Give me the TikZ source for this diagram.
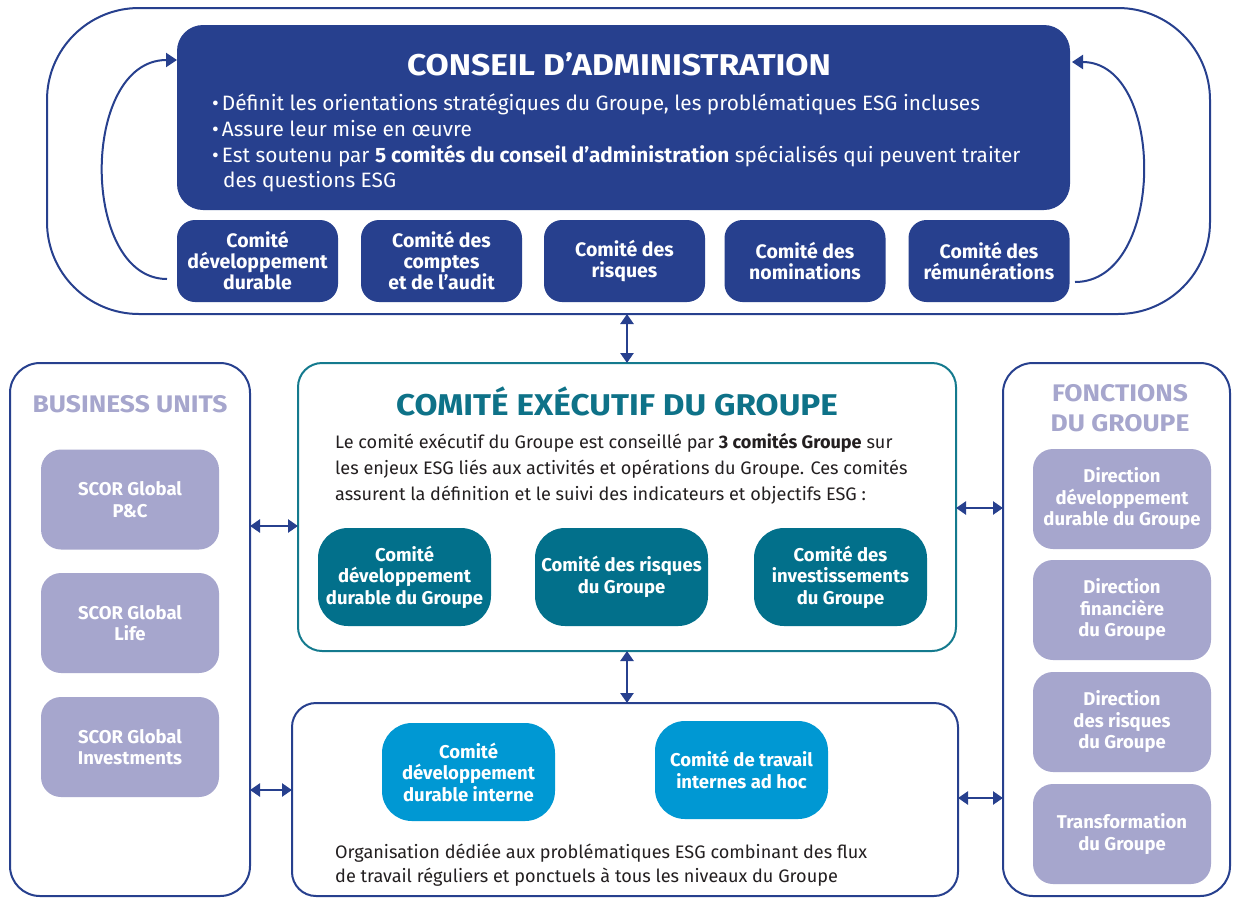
\documentclass[tikz,border=0pt]{standalone}
\usepackage{graphicx}
\usepackage{fontspec}
\setmainfont{Fira Sans}
\usetikzlibrary{arrows.meta}
\definecolor{dblue}{RGB}{39,64,142}
\definecolor{lav}{RGB}{166,166,205}
\definecolor{myteal}{RGB}{2,112,139}
\definecolor{tealline}{RGB}{20,122,142}
\definecolor{tealtitle}{RGB}{14,114,136}
\definecolor{lblue}{RGB}{0,152,211}
\definecolor{bodytext}{RGB}{35,31,32}
\tikzset{
  frame/.style={draw=dblue, line width=2pt, fill=white, inner sep=0pt, outer sep=0pt},
  boxtext/.style={inner sep=0pt, align=center, text=white, font=\fontsize{18.5}{21.5}\selectfont\bfseries},
  boardcom/.style={boxtext, fill=dblue, rounded corners=18pt, minimum width=161pt, minimum height=82pt, font=\fontsize{19.5}{21}\selectfont\bfseries},
  lavbox/.style={boxtext, fill=lav, rounded corners=20pt, minimum width=178pt, minimum height=100pt},
  tealbox/.style={boxtext, fill=myteal, rounded corners=30pt, minimum width=173pt, minimum height=98pt},
  bluebox/.style={boxtext, fill=lblue, rounded corners=30pt, minimum width=173pt, minimum height=98pt},
  bigtitle/.style={inner sep=0pt, font=\fontsize{30}{34}\selectfont\bfseries},
  sidetitle/.style={inner sep=0pt, text=lav, align=center, font=\fontsize{24}{30.5}\selectfont\bfseries},
  bullet/.style={anchor=base west, inner sep=0pt, text=white, font=\fontsize{20.8}{26}\selectfont},
  body/.style={anchor=base west, inner sep=0pt, text=bodytext, font=\fontsize{18.1}{26}\selectfont},
  darr/.style={draw=dblue, line width=2.5pt, {Triangle[length=10pt,width=13pt]}-{Triangle[length=10pt,width=13pt]}},
  carr/.style={draw=dblue, line width=2pt, -{Triangle[length=11pt,width=14pt]}},
}
\begin{document}
\begin{tikzpicture}[x=1pt,y=-1pt]
\useasboundingbox (0,0) rectangle (1237,898);

% ---------- board frame ----------
\node[frame, rounded corners=92pt, minimum width=1163pt, minimum height=306pt] (board) at (628.5,161) {};
\node[fill=dblue, rounded corners=26pt, minimum width=893pt, minimum height=185pt, inner sep=0pt] (ca) at (623.5,117.5) {};
\node[bigtitle, text=white] (catitle) at (619,64) {\scalebox{1.12}[1]{CONSEIL D’ADMINISTRATION}};
\node[bullet] (cab1) at (212,110) {•\hspace{3pt}Définit les orientations stratégiques du Groupe, les problématiques ESG incluses};
\node[bullet] (cab2) at (212,136) {•\hspace{3pt}Assure leur mise en œuvre};
\node[bullet] (cab3) at (212,162) {•\hspace{3pt}Est soutenu par \textbf{5 comités du conseil d’administration} spécialisés qui peuvent traiter};
\node[bullet] (cab4) at (223,187) {des questions ESG};

\node[boardcom] (c1) at (257.5,261) {Comité\\développement\\durable};
\node[boardcom] (c2) at (441.5,261) {Comité des\\comptes\\et de l’audit};
\node[boardcom] (c3) at (624.5,261) {Comité des\\risques};
\node[boardcom] (c4) at (805,261) {Comité des\\nominations};
\node[boardcom] (c5) at (989,261) {Comité des\\rémunérations};

\coordinate (lstart) at (167,279);
\coordinate (ltip) at (177,60);
\coordinate (rstart) at (1075,282);
\coordinate (rtip) at (1072,62);
\draw[carr] (lstart) .. controls (80,279) and (80,60) .. (ltip);
\draw[carr] (rstart) .. controls (1166,282) and (1166,62) .. (rtip);

% ---------- business units ----------
\node[frame, rounded corners=30pt, minimum width=240pt, minimum height=533pt] (bu) at (130,629.5) {};
\node[sidetitle] (butitle) at (130,404) {\scalebox{1.1}[1]{BUSINESS UNITS}};
\node[lavbox] (bu1) at (130,499.5) {SCOR Global\\P\&C};
\node[lavbox] (bu2) at (130,623) {SCOR Global\\Life};
\node[lavbox] (bu3) at (130,747) {SCOR Global\\Investments};

% ---------- fonctions du groupe ----------
\node[frame, rounded corners=30pt, minimum width=227pt, minimum height=533pt] (fg) at (1116.5,629.5) {};
\node[sidetitle] (fgtitle) at (1120,408) {\scalebox{1.1}[1]{FONCTIONS}\\\scalebox{1.1}[1]{DU GROUPE}};
\node[lavbox] (fg1) at (1122,499) {Direction\\développement\\durable du Groupe};
\node[lavbox] (fg2) at (1122,610) {Direction\\financière\\du Groupe};
\node[lavbox] (fg3) at (1122,722) {Direction\\des risques\\du Groupe};
\node[lavbox] (fg4) at (1122,834) {Transformation\\du Groupe};

% ---------- comité exécutif ----------
\node[frame, draw=tealline, rounded corners=24pt, minimum width=658pt, minimum height=288pt] (exec) at (627,507) {};
\node[bigtitle, text=tealtitle] (extitle) at (617,401) {\scalebox{1.11}[1]{COMITÉ EXÉCUTIF DU GROUPE}};
\node[body] (exb1) at (335,448) {Le comité exécutif du Groupe est conseillé par \textbf{3 comités Groupe} sur};
\node[body] (exb2) at (335,474) {les enjeux ESG liés aux activités et opérations du Groupe. Ces comités};
\node[body] (exb3) at (335,500) {assurent la définition et le suivi des indicateurs et objectifs ESG :};
\node[tealbox] (t1) at (404.5,577) {Comité\\développement\\durable du Groupe};
\node[tealbox] (t2) at (621.5,577) {Comité des risques\\du Groupe};
\node[tealbox] (t3) at (840.5,577) {Comité des\\investissements\\du Groupe};

% ---------- organisation ----------
\node[frame, rounded corners=24pt, minimum width=666pt, minimum height=193pt] (org) at (625,799.5) {};
\node[bluebox] (o1) at (468.5,772) {Comité\\développement\\durable interne};
\node[bluebox] (o2) at (741.5,770) {Comité de travail\\internes ad hoc};
\node[body] (ob1) at (335,858) {Organisation dédiée aux problématiques ESG combinant des flux};
\node[body] (ob2) at (335,882) {de travail réguliers et ponctuels à tous les niveaux du Groupe};

% ---------- connectors ----------
\draw[darr] (exec.north) -- (exec.north |- board.south);
\draw[darr] (exec.south) -- (exec.south |- org.north);
\coordinate (h1) at (0,526);
\coordinate (h2) at (0,790);
\coordinate (h3) at (0,508);
\coordinate (h4) at (0,798);
\draw[darr] (bu.east |- h1) -- (exec.west |- h1);
\draw[darr] (bu.east |- h2) -- (org.west |- h2);
\draw[darr] (exec.east |- h3) -- (fg.west |- h3);
\draw[darr] (org.east |- h4) -- (fg.west |- h4);
\end{tikzpicture}
\end{document}
